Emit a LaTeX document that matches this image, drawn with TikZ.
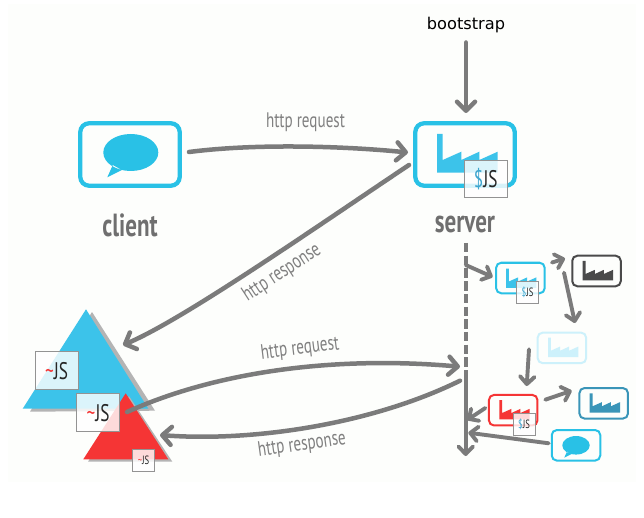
\documentclass[tikz,border=0pt]{standalone}
\usepackage{fontspec}
\usetikzlibrary{arrows.meta}
\setmainfont{DejaVu Sans}
\newfontfamily\yan[FakeStretch=0.72]{PT Sans}
\definecolor{bgc}{HTML}{FDFEFC}
\definecolor{cyanc}{HTML}{29C1E6}
\definecolor{factc}{HTML}{3CC3EA}
\definecolor{arrc}{HTML}{7B7B7B}
\definecolor{labc}{HTML}{808080}
\definecolor{namec}{HTML}{6F6F6F}
\definecolor{darkc}{HTML}{4A4A4A}
\definecolor{lightc}{HTML}{CDF1FB}
\definecolor{redc}{HTML}{F53535}
\definecolor{tealc}{HTML}{3A95B8}
\definecolor{shadc}{HTML}{B4B4B4}
\definecolor{dollarc}{HTML}{3FA6CF}
\tikzset{
  bigbox/.style={draw=cyanc,line width=4.3pt,rounded corners=9pt,minimum width=99.5pt,minimum height=62.5pt,inner sep=0pt,fill=bgc},
  minibox/.style={draw=#1,line width=2pt,rounded corners=5pt,minimum width=48.5pt,minimum height=30.5pt,inner sep=0pt,fill=bgc},
  jsbox/.style={draw=gray!85,line width=1pt,fill=white,fill opacity=.82,text opacity=1,inner sep=0pt,text=black!85,font=\yan},
  arr/.style={draw=arrc,line width=4.5pt,line cap=round,-{Straight Barb[length=9pt,width=18pt,round]}},
  miniarr/.style={draw=arrc,line width=3.9pt,line cap=round,-{Straight Barb[length=7.5pt,width=14.5pt,round]}},
  linklabel/.style={text=labc,font=\yan\fontsize{21}{21}\selectfont,inner sep=0pt},
  namelabel/.style={text=namec,font=\yan\bfseries\fontsize{32}{32}\selectfont,inner sep=0pt},
}
\newcommand{\factory}[4]{%
  \fill[#4,shift={(#1,#2)},scale=#3] (0,0) -- (5.7,0) -- (5.7,26) -- (24.3,17.7) -- (24.3,26) -- (42.3,17.7) -- (42.3,26) -- (60.7,17.7) -- (60.7,38.7) -- (0,38.7) -- cycle;}
\newcommand{\bubble}[3]{%
  \fill[cyanc,shift={(#1,#2)},scale=#3] (0,0) ellipse [x radius=27.5,y radius=18.5]
    (-18,12.5) -- (-23.5,24.8) -- (-9,17.5) -- cycle;}
\begin{document}
\begin{tikzpicture}[x=1pt,y=-1pt]
\useasboundingbox (0,0) rectangle (644,518);
\fill[white] (0,0) rectangle (644,518);
\fill[bgc] (8,4) rectangle (636,482);

% blue and red triangles
\fill[shadc] (92,312) -- (155,410.7) -- (30,411.7) -- cycle;
\fill[factc] (86,309.3) -- (148.3,408.7) -- (22.7,408.7) -- cycle;
\fill[shadc] (129,396) -- (172.3,461.7) -- (88,461.7) -- cycle;
\fill[redc] (125.7,393.3) -- (168.3,459.3) -- (83.3,459.3) -- cycle;
\coordinate (bluetri) at (85.5,370);
\coordinate (redtri) at (125.7,430);

% main boxes
\node[bigbox] (client) at (130,154.5) {};
\bubble{130.8}{152.5}{1}
\node[bigbox] (server) at (465,154.5) {};
\factory{437}{134}{1}{factc}
\node[jsbox,minimum width=43pt,minimum height=37pt,font=\yan\fontsize{24}{24}\selectfont] (serverjs) at (485.8,179) {\textcolor{dollarc}{\$}JS};

\node[text=black,font=\fontsize{16.2}{16.2}\selectfont,inner sep=0pt] (boot) at (466,25.5) {bootstrap};
\node[namelabel] (clientname) at (130,225) {client};
\node[namelabel] (servername) at (465,225) {server};

% mini boxes
\node[minibox=cyanc] (a) at (520.4,278) {};
\factory{506}{268.5}{.5}{factc}
\node[jsbox,minimum width=22pt,minimum height=22pt,font=\yan\fontsize{12}{12}\selectfont] (ajs) at (527.5,292) {\textcolor{dollarc}{\$}JS};
\node[minibox=darkc] (b) at (596.5,271) {};
\factory{582.7}{261}{.5}{darkc}
\node[minibox=lightc] (c) at (561.9,347.9) {};
\factory{548}{337.7}{.5}{lightc}
\node[minibox=redc] (d) at (513.2,410.2) {};
\factory{499.3}{400}{.5}{redc}
\node[jsbox,minimum width=22pt,minimum height=22pt,font=\yan\fontsize{12}{12}\selectfont] (djs) at (524,424.3) {\textcolor{dollarc}{\$}JS};
\node[minibox=tealc] (e) at (603.7,403.3) {};
\factory{589.7}{393.3}{.5}{tealc}
\node[minibox=cyanc] (f) at (576,445.3) {};
\bubble{576}{445.3}{.5}

% trunk
\coordinate (trunktop) at (465.7,243);
\coordinate (trunkmid) at (465.7,379);
\coordinate (trunkend) at (465.7,456);
\draw[draw=arrc,line width=4pt,dash pattern=on 9.5pt off 3.2pt] (trunktop) -- (trunkmid);
\draw[miniarr] ([yshift=5pt]trunkmid) -- (trunkend);

% main connectors
\draw[arr] ([shift={(0,17)}]boot.center) -- ([shift={(0,-41.5)}]server.center -| boot.center);
\draw[arr] ([shift={(59,-2.5)}]client.center) .. controls +(70,-9) and +(-60,-6) .. ([shift={(-57,-2)}]server.center);
\draw[arr] ([shift={(-56,10.5)}]server.center) .. controls +(-90,60) and +(60,-25) .. ([shift={(37.5,-25)}]bluetri);

% JS boxes on triangles
\node[jsbox,minimum width=43pt,minimum height=38pt,font=\yan\fontsize{24}{24}\selectfont] (js1) at (56.7,370.8) {\textcolor{redc}{\textasciitilde}JS};
\node[jsbox,minimum width=43pt,minimum height=38pt,font=\yan\fontsize{24}{24}\selectfont] (js2) at (98.2,412.7) {\textcolor{redc}{\textasciitilde}JS};
\node[jsbox,minimum width=22pt,minimum height=22pt,font=\yan\fontsize{12}{12}\selectfont] (js3) at (143.5,460.5) {\textcolor{redc}{\textasciitilde}JS};

\draw[arr] ([shift={(28.8,-0.7)}]js2.center) .. controls +(93,-42) and +(-120,-10.7) .. ([shift={(-5.7,-12.3)}]trunkmid);
\draw[arr] ([shift={(-5.7,1.7)}]trunkmid) .. controls +(-90,44.3) and +(90,7) .. ([shift={(34.3,5)}]redtri);

% mini connectors
\draw[miniarr] ([shift={(0,22)}]trunktop) -- ([shift={(-27.7,-1)}]a.center);
\draw[miniarr] ([shift={(31.6,-15.5)}]a.center) -- ([shift={(-31.5,-12.5)}]b.center);
\draw[miniarr] ([shift={(-32.5,1.7)}]b.center) -- ([shift={(13.1,-24.9)}]c.center);
\draw[miniarr] ([shift={(-32.9,1.4)}]c.center) -- ([shift={(13.5,-24.2)}]d.center);
\draw[miniarr] ([shift={(32.1,-10.5)}]d.center) -- ([shift={(-32,-12.6)}]e.center);
\draw[miniarr] ([shift={(-27.9,-2.2)}]d.center) -- ([shift={(1.6,-36)}]trunkend);
\draw[miniarr] ([shift={(-27.3,-2)}]f.center) -- ([shift={(2.6,-23.3)}]trunkend);

% connector labels
\node[linklabel] (l1) at (305.5,122) {http request};
\node[linklabel,rotate=33] (l2) at (282,273) {http response};
\node[linklabel,rotate=7] (l3) at (300,349) {http request};
\node[linklabel,rotate=8] (l4) at (302,445) {http response};
\end{tikzpicture}
\end{document}
